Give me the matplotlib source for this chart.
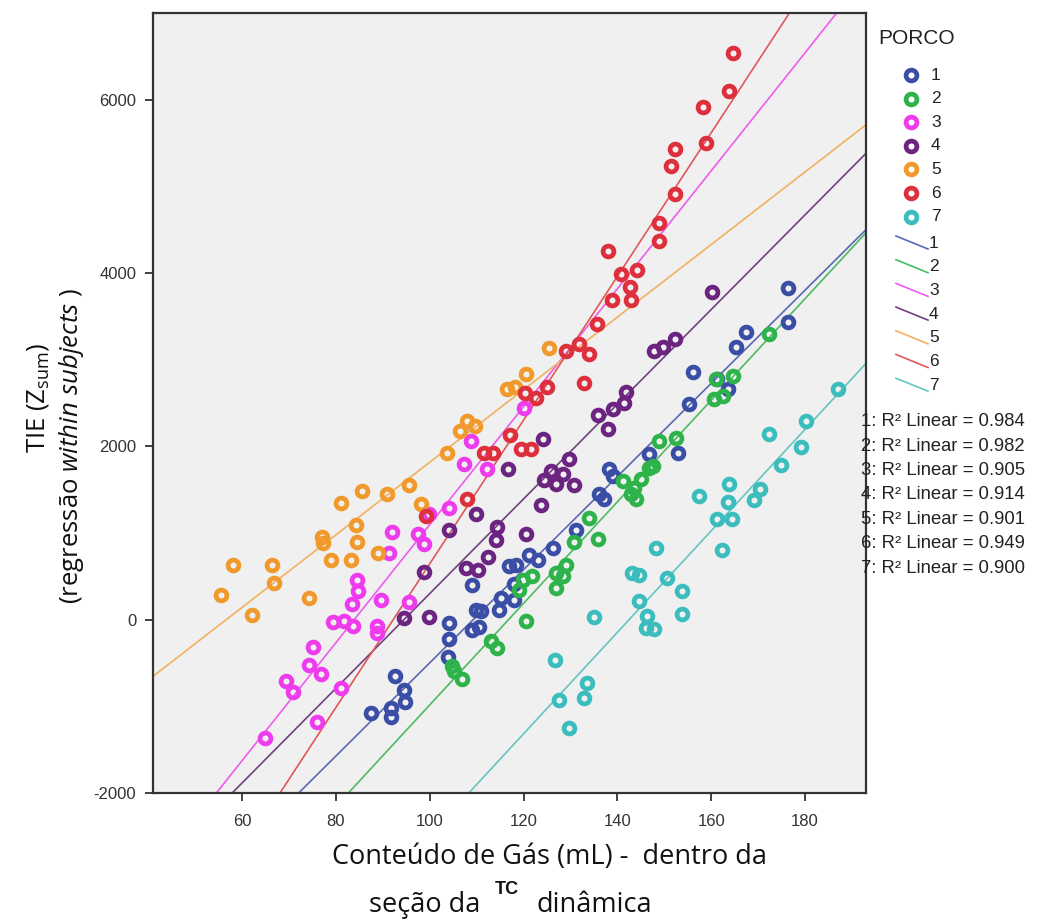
import numpy as np
import matplotlib
matplotlib.use("Agg")
import matplotlib.pyplot as plt
from matplotlib.lines import Line2D

# ---------------- data ----------------
series_names = ["1", "2", "3", "4", "5", "6", "7"]
r2_values = ["0.984", "0.982", "0.905", "0.914", "0.901", "0.949", "0.900"]

x1 = [87.5, 91.7, 91.8, 92.5, 94.5, 94.7, 103.8, 104.0, 104.1, 109.1, 109.1, 110.4, 109.8, 110.9,
      114.8, 115.2, 118.0, 116.9, 118.4, 118.0, 121.2, 123.0, 126.2, 131.2, 136.1, 137.2, 138.2,
      139.0, 146.7, 152.85, 155.2, 156.2, 161.3, 163.5, 165.3, 167.45, 176.3, 176.3]
y1 = [-1079, -1021, -1125, -647, -817, -945, -431, -223, -38, 405, -116, -84, 116, 96,
      116, 251, 223, 616, 636, 416, 751, 694, 829, 1029, 1445, 1387, 1742,
      1657, 1907, 1927, 2486, 2852, 2775, 2659, 3141, 3314, 3823, 3437]

x2 = [104.8, 105.2, 106.8, 113.0, 114.4, 120.5, 119.1, 119.8, 121.9, 126.9, 126.9, 128.3, 129.0,
      130.8, 134.0, 135.9, 141.1, 142.9, 143.6, 144.0, 145.0, 146.8, 147.5, 148.9, 152.5, 160.5,
      161.0, 162.5, 164.6, 172.3]
y2 = [-540, -598, -682, -251, -327, -20, 347, 462, 501, 540, 366, 501, 636,
      894, 1176, 933, 1599, 1445, 1523, 1387, 1618, 1754, 1772, 2061, 2101, 2543,
      2775, 2581, 2813, 3295]

x3 = [64.85, 69.4, 70.8, 74.2, 75.1, 76.9, 76.0, 81.0, 79.4, 81.7, 83.7, 83.5, 84.5, 84.7, 88.7,
      88.8, 89.7, 95.6, 92.0, 91.3, 97.6, 98.8, 99.9, 104.0, 108.75, 107.3, 112.1, 120.0]
y3 = [-1361, -705, -829, -520, -316, -624, -1176, -790, -31, -12, -69, 185, 462, 327, -77,
      -154, 231, 200, 1014, 771, 994, 875, 1214, 1291, 2061, 1792, 1742, 2439]

x4 = [94.5, 98.8, 99.85, 104.1, 107.7, 109.8, 110.2, 112.4, 114.2, 114.4, 116.6, 120.5, 123.7,
      124.1, 124.4, 125.8, 126.9, 128.3, 129.6, 130.8, 135.9, 137.9, 139.0, 141.5, 141.9, 147.9,
      149.8, 152.2, 160.2]
y4 = [23, 555, 35, 1040, 601, 1225, 578, 728, 925, 1075, 1734, 983, 1318,
      2081, 1607, 1711, 1561, 1676, 1850, 1549, 2358, 2196, 2428, 2497, 2624, 3098,
      3145, 3237, 3780]

x5 = [55.4, 58.1, 62.1, 66.3, 66.8, 74.2, 77.0, 77.2, 79.0, 81.0, 83.2, 84.2, 84.4, 85.5, 88.9,
      90.8, 95.6, 98.2, 103.6, 106.5, 108.0, 109.7, 116.5, 118.2, 120.5, 125.5]
y5 = [289, 628, 58, 636, 424, 251, 950, 880, 694, 1341, 694, 1098, 898, 1483, 771,
      1453, 1549, 1329, 1919, 2177, 2293, 2235, 2659, 2682, 2832, 3133]

x6 = [164.7, 163.7, 158.2, 158.9, 152.2, 151.4, 152.2, 148.8, 148.9, 138.1, 140.8, 144.1, 142.7,
      142.9, 138.8, 135.6, 131.9, 129.0, 134.0, 132.9, 125.1, 120.3, 122.6, 117.1, 113.4, 111.6,
      119.4, 121.6, 108.0, 99.2]
y6 = [6543, 6096, 5915, 5499, 5426, 5229, 4913, 4574, 4374, 4258, 3988, 4038, 3835,
      3688, 3691, 3410, 3179, 3102, 3063, 2728, 2679, 2621, 2563, 2127, 1919, 1919,
      1965, 1965, 1387, 1191]

x7 = [126.7, 127.6, 129.7, 132.9, 133.6, 135.1, 143.2, 144.6, 144.6, 146.1, 146.4, 147.9, 148.2,
      150.65, 153.8, 153.8, 157.3, 161.2, 162.3, 163.5, 163.7, 164.5, 169.2, 170.3, 172.3, 174.9,
      179.2, 180.3, 187.0]
y7 = [-462, -925, -1252, -905, -725, 31, 540, 520, 212, -96, 38, -108, 829,
      486, 327, 69, 1425, 1156, 801, 1356, 1561, 1164, 1379, 1511, 2139, 1780,
      1992, 2292, 2667]

xs = [x1, x2, x3, x4, x5, x6, x7]
ys = [y1, y2, y3, y4, y5, y6, y7]

marker_colors = ["#3a4ea6", "#2eb34a", "#ee3bee", "#6b2480", "#f19a2b", "#de2f3c", "#3bbdbd"]
line_colors = ["#5a68b0", "#4cbb62", "#ee5cee", "#71407f", "#f2b060", "#e05858", "#62c6c0"]

x_ticks = [60, 80, 100, 120, 140, 160, 180]
y_ticks = [-2000, 0, 2000, 4000, 6000]
xlim = (41, 193)
ylim = (-2000, 7000)

# ---------------- figure ----------------
W, H = 1045, 923
plt.rcParams["mathtext.fontset"] = "custom"
plt.rcParams["mathtext.rm"] = "Open Sans"
plt.rcParams["mathtext.it"] = "Open Sans:italic"
plt.rcParams["mathtext.bf"] = "Open Sans:bold"

fig = plt.figure(figsize=(W / 100, H / 100), dpi=100)
fig.patch.set_facecolor("white")


def P(px, py):
    return (px / W, 1 - py / H)


left, right, top, bottom = 153, 866, 13, 793
ax = fig.add_axes([left / W, 1 - bottom / H, (right - left) / W, (bottom - top) / H])
ax.set_facecolor("#f0f0f0")
ax.set_xlim(*xlim)
ax.set_ylim(*ylim)

xx = np.linspace(xlim[0], xlim[1], 200)
for i in range(7):
    x = np.array(xs[i], dtype=float)
    y = np.array(ys[i], dtype=float)
    b, a = np.polyfit(x, y, 1)
    ax.plot(xx, a + b * xx, color=line_colors[i], lw=1.2, zorder=2)
for i in range(7):
    ax.plot(xs[i], ys[i], linestyle="none", marker="o", ms=7.8, mew=3.4,
            mfc="none", mec=marker_colors[i], zorder=3)

ax.set_xticks(x_ticks)
ax.set_yticks(y_ticks)
ax.set_xticklabels([str(t) for t in x_ticks], fontsize=12, family="Liberation Sans", color="#333333")
ax.set_yticklabels([str(t) for t in y_ticks], fontsize=12, family="Liberation Sans", color="#333333")
ax.tick_params(axis="x", direction="out", length=6, width=1.3, color="#333333", pad=9)
ax.tick_params(axis="y", direction="out", length=6, width=1.3, color="#333333", pad=6)
for s in ax.spines.values():
    s.set_linewidth(1.6)
    s.set_color("#333333")

# ---------------- axis labels ----------------
fig.text(*P(550, 857), "Conteúdo de Gás (mL) -  dentro da", ha="center", va="center",
         family="Open Sans", fontsize=19.5, color="#111111")
fig.text(*P(480, 905), "seção da", ha="right", va="center",
         family="Open Sans", fontsize=19.5, color="#111111")
fig.text(*P(507, 889), "TC", ha="center", va="center",
         family="Liberation Sans", fontweight="bold", fontsize=13, color="#111111")
fig.text(*P(536, 905), "dinâmica", ha="left", va="center",
         family="Open Sans", fontsize=19.5, color="#111111")

fig.text(*P(38, 398), r"TIE (Z$_{\mathrm{sum}}$)", rotation=90, ha="center", va="center",
         family="Open Sans", fontsize=18.5, color="#111111")
fig.text(*P(72, 446), r"(regressão $\mathit{within\ subjects}$ )", rotation=90, ha="center",
         va="center", family="Open Sans", fontsize=18.5, color="#111111")

# ---------------- legend (manual, outside axes) ----------------
fig.text(*P(878, 38), "PORCO", ha="left", va="center", family="Liberation Sans",
         fontsize=15, color="#222222")
for i in range(7):
    py = 75 + i * 23.6
    fig.add_artist(Line2D([P(911, py)[0]], [P(911, py)[1]], transform=fig.transFigure,
                          linestyle="none", marker="o", ms=7.8, mew=3.4, mfc="none",
                          mec=marker_colors[i]))
    fig.text(*P(931, py), series_names[i], ha="left", va="center", family="Liberation Sans",
             fontsize=12.5, color="#222222")
for i in range(7):
    py = 243 + i * 23.7
    x0, y0 = P(896, py - 7)
    x1_, y1_ = P(928, py + 6)
    fig.add_artist(Line2D([x0, x1_], [y0, y1_], transform=fig.transFigure,
                          color=line_colors[i], lw=1.2))
    fig.text(*P(929, py), series_names[i], ha="left", va="center", family="Liberation Sans",
             fontsize=12.5, color="#222222")
for i in range(7):
    py = 421.7 + i * 24.4
    fig.text(*P(861, py), f"{series_names[i]}: R² Linear = {r2_values[i]}", ha="left",
             va="center", family="Liberation Sans", fontsize=13.3, color="#222222")

fig.savefig("out.png", dpi=100)
